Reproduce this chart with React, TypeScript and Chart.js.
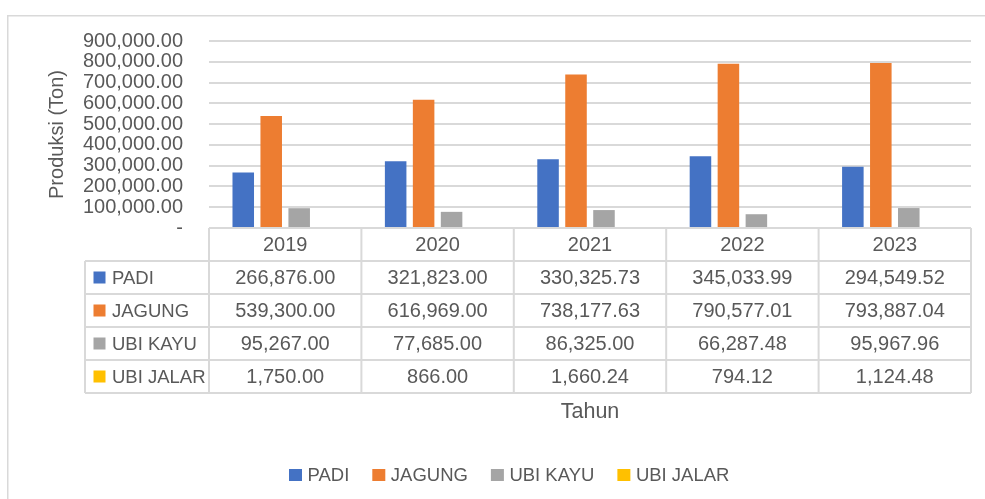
import React, { useEffect, useRef } from 'react';
import { Chart, registerables } from 'chart.js';

Chart.register(...registerables);

const years = ['2019', '2020', '2021', '2022', '2023'];
const padi = [266876.0, 321823.0, 330325.73, 345033.99, 294549.52];
const jagung = [539300.0, 616969.0, 738177.63, 790577.01, 793887.04];
const ubiKayu = [95267.0, 77685.0, 86325.0, 66287.48, 95967.96];
const ubiJalar = [1750.0, 866.0, 1660.24, 794.12, 1124.48];
const seriesNames = ['PADI', 'JAGUNG', 'UBI KAYU', 'UBI JALAR'];
const seriesColors = ['#4472C4', '#ED7D31', '#A5A5A5', '#FFC000'];
const yMin = 0;
const yMax = 900000;
const yStep = 100000;
const yTitle = 'Produksi (Ton)';
const xTitle = 'Tahun';

const FONT = '"Liberation Sans", Arial, sans-serif';
const TEXT = '#595959';
const LINE = '#D9D9D9';

const fmt = (v: number) =>
  v.toLocaleString('en-US', { minimumFractionDigits: 2, maximumFractionDigits: 2 });

const tablePlugin = {
  id: 'dataTable',
  afterDraw(chart: any) {
    const ctx: CanvasRenderingContext2D = chart.ctx;
    const area = chart.chartArea;
    const xs = chart.scales.x;
    const labels: string[] = chart.data.labels;
    const n = labels.length;
    const colW = (area.right - area.left) / n;
    const top = area.bottom;
    const rowH = 33;
    const labelLeft = 85;
    const datasets = chart.data.datasets;
    const rows = datasets.length + 1;

    ctx.save();
    // outer border
    ctx.strokeStyle = LINE;
    ctx.lineWidth = 1.5;
    ctx.strokeRect(7.75, 15.75, 1200, 1000);

    // y axis title
    ctx.save();
    ctx.translate(57, (area.top + area.bottom) / 2);
    ctx.rotate(-Math.PI / 2);
    ctx.fillStyle = TEXT;
    ctx.font = `20px ${FONT}`;
    ctx.textAlign = 'center';
    ctx.textBaseline = 'middle';
    ctx.fillText(yTitle, 0, 0);
    ctx.restore();

    // table grid
    ctx.strokeStyle = LINE;
    ctx.lineWidth = 2;
    ctx.beginPath();
    ctx.moveTo(area.left, top);
    ctx.lineTo(area.right, top);
    for (let r = 1; r <= rows; r++) {
      ctx.moveTo(labelLeft, top + r * rowH);
      ctx.lineTo(area.right, top + r * rowH);
    }
    ctx.moveTo(labelLeft, top + rowH);
    ctx.lineTo(labelLeft, top + rows * rowH);
    for (let c = 0; c <= n; c++) {
      const x = c < n ? xs.getPixelForValue(c) - colW / 2 : xs.getPixelForValue(n - 1) + colW / 2;
      ctx.moveTo(x, top);
      ctx.lineTo(x, top + rows * rowH);
    }
    ctx.stroke();

    // header & values
    ctx.fillStyle = TEXT;
    ctx.textAlign = 'center';
    ctx.textBaseline = 'middle';
    ctx.font = `20px ${FONT}`;
    for (let c = 0; c < n; c++) {
      const cx = xs.getPixelForValue(c);
      ctx.fillText(labels[c], cx, top + rowH / 2 + 1);
      datasets.forEach((ds: any, i: number) => {
        ctx.fillText(fmt(ds.data[c]), cx, top + (i + 1) * rowH + rowH / 2 + 1);
      });
    }
    // row labels
    ctx.textAlign = 'left';
    ctx.font = `18.5px ${FONT}`;
    datasets.forEach((ds: any, i: number) => {
      const cy = top + (i + 1) * rowH + rowH / 2;
      ctx.fillStyle = ds.backgroundColor;
      ctx.fillRect(93.5, cy - 6, 12, 12);
      ctx.fillStyle = TEXT;
      ctx.fillText(ds.label, 112, cy + 1);
    });

    // x title
    ctx.textAlign = 'center';
    ctx.font = `21.5px ${FONT}`;
    ctx.fillText(xTitle, (area.left + area.right) / 2, 412);

    // legend
    ctx.textAlign = 'left';
    ctx.font = `18.5px ${FONT}`;
    let lx = 289;
    const ly = 475;
    datasets.forEach((ds: any) => {
      ctx.fillStyle = ds.backgroundColor;
      ctx.fillRect(lx, ly - 6, 13, 12);
      ctx.fillStyle = TEXT;
      ctx.fillText(ds.label, lx + 18.5, ly + 1);
      lx += 18.5 + ctx.measureText(ds.label).width + 23;
    });
    ctx.restore();
  },
};

export default function App() {
  const ref = useRef<HTMLCanvasElement>(null);
  useEffect(() => {
    if (!ref.current) return;
    const series = [padi, jagung, ubiKayu, ubiJalar];
    const chart = new Chart(ref.current, {
      type: 'bar',
      data: {
        labels: years,
        datasets: series.map((d, i) => ({
          label: seriesNames[i],
          data: d,
          backgroundColor: seriesColors[i],
          borderWidth: 0,
          categoryPercentage: 0.734,
          barPercentage: 0.77,
        })),
      },
      options: {
        animation: false,
        responsive: false,
        devicePixelRatio: 1,
        layout: { padding: { top: 41, right: 14, left: 0, bottom: 0 } },
        plugins: {
          legend: { display: false },
          tooltip: { enabled: false },
          title: { display: false },
        },
        scales: {
          x: {
            grid: { display: false },
            border: { display: false },
            ticks: { display: false },
            afterFit: (s: any) => {
              s.height = 271;
            },
          },
          y: {
            min: yMin,
            max: yMax,
            ticks: {
              stepSize: yStep,
              autoSkip: false,
              color: TEXT,
              font: { family: FONT, size: 20 },
              padding: 26,
              callback: (v: any) => (Number(v) === 0 ? '-' : fmt(Number(v))),
            },
            grid: { color: LINE, lineWidth: 2, drawTicks: false },
            border: { display: false },
            afterFit: (s: any) => {
              s.width = 209;
            },
          },
        },
      },
      plugins: [tablePlugin],
    } as any);
    return () => chart.destroy();
  }, []);
  return (
    <div style={{ position: 'absolute', left: 0, top: 0, width: 985, height: 499, background: '#fff' }}>
      <canvas ref={ref} width={985} height={499} style={{ width: 985, height: 499, display: 'block' }} />
    </div>
  );
}
